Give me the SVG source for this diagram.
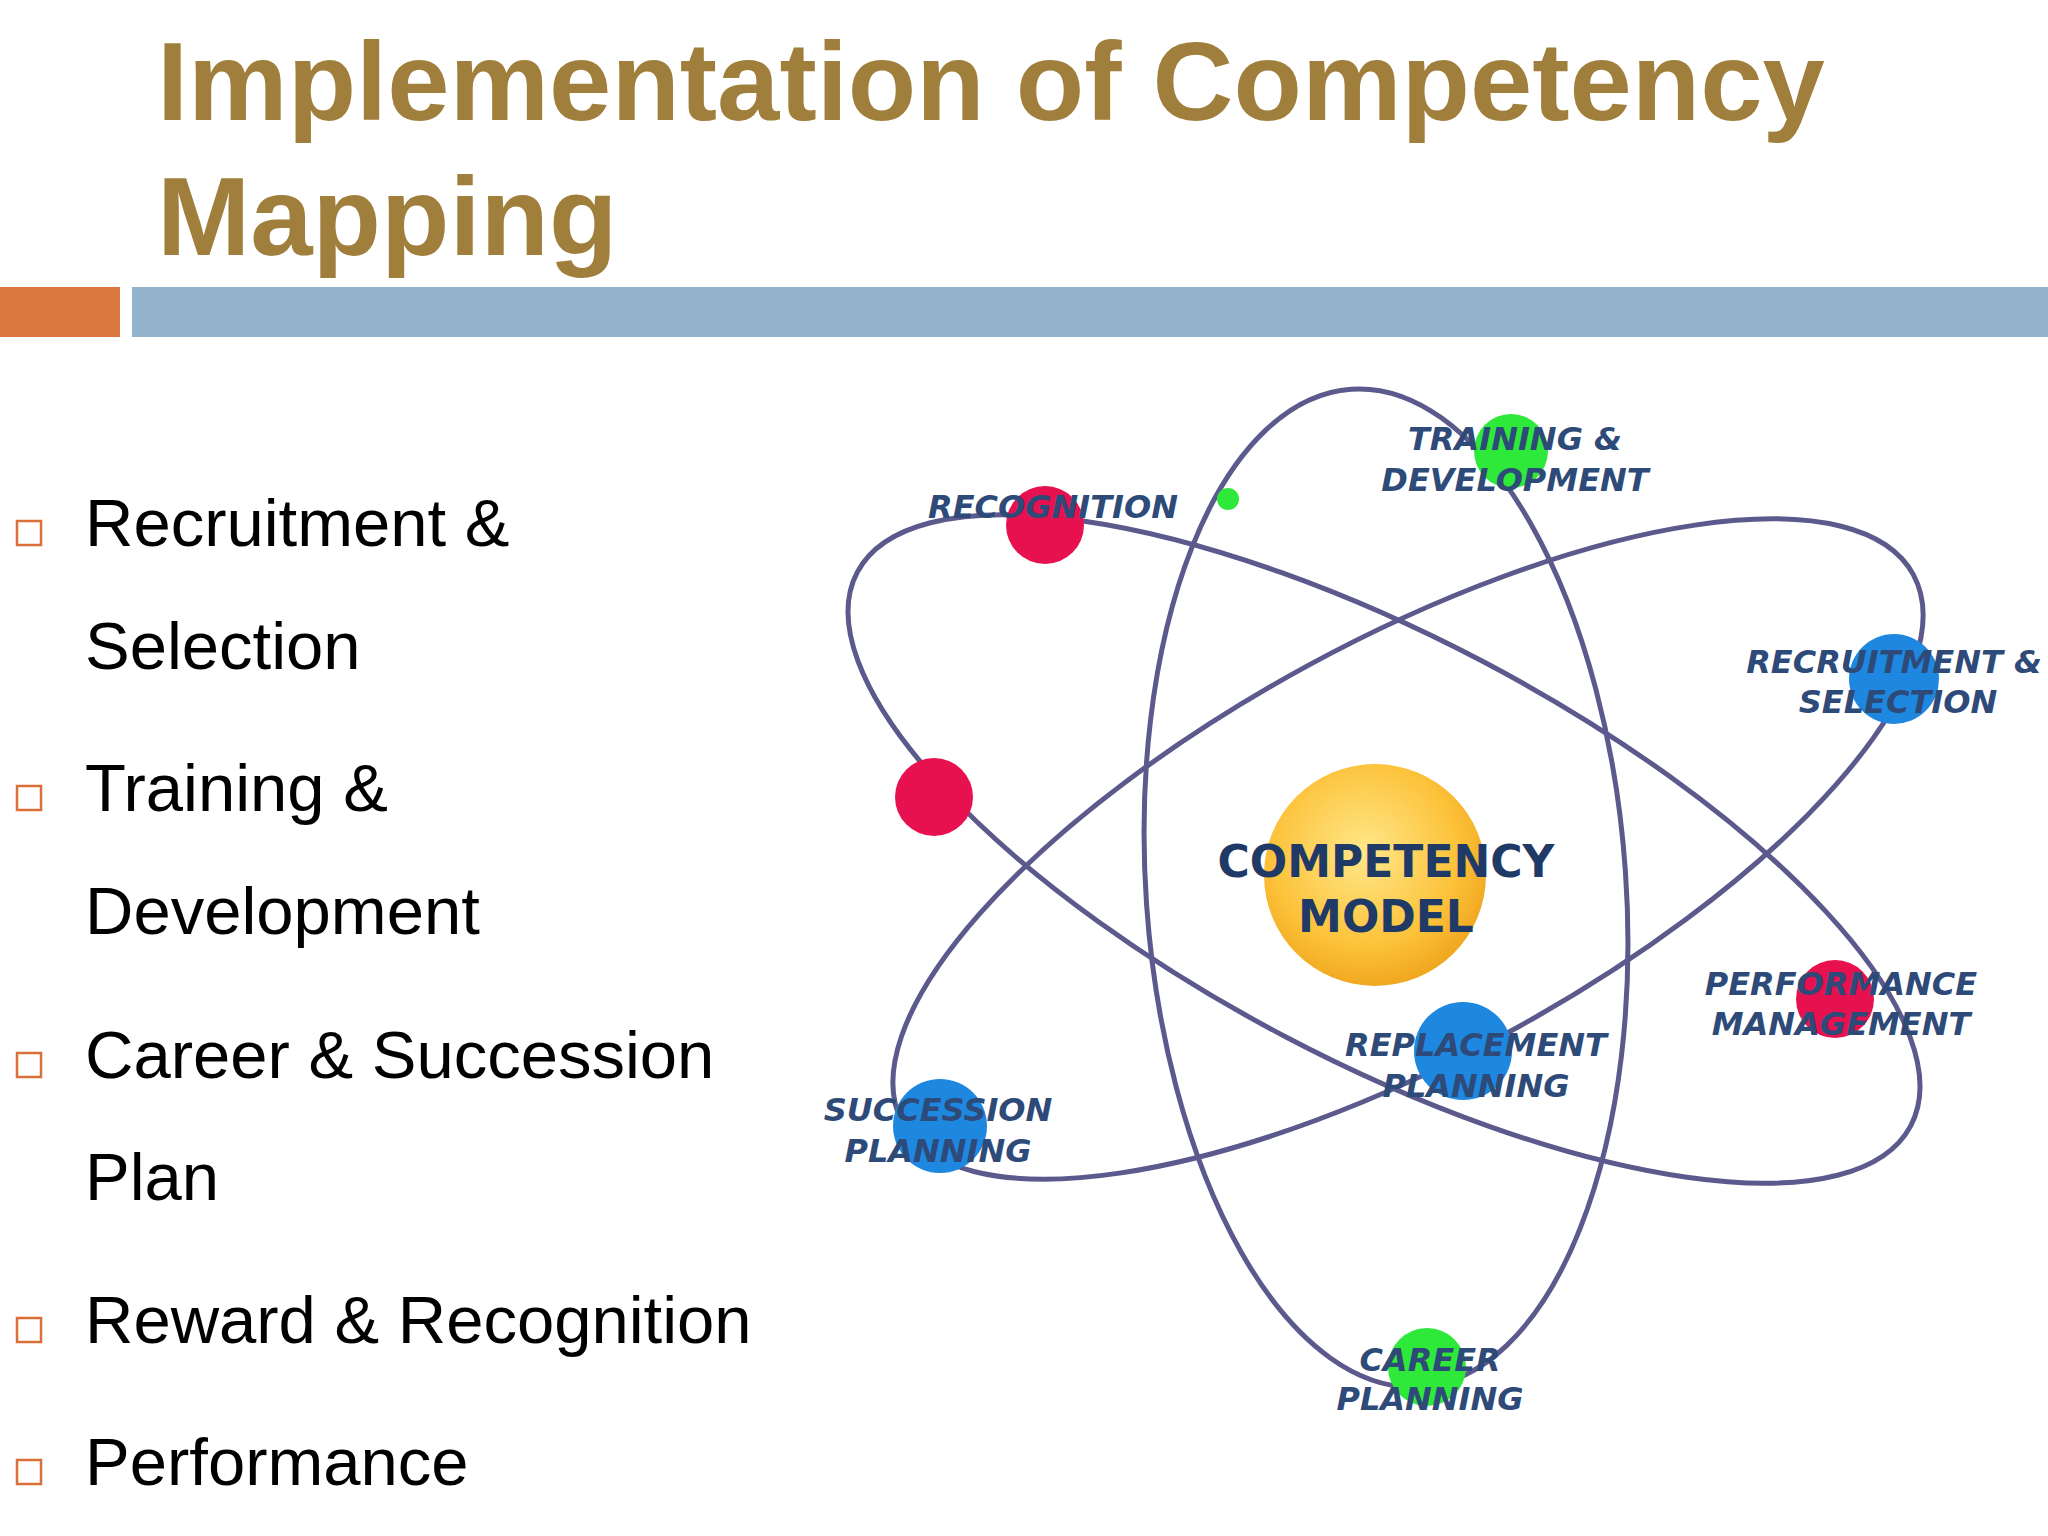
<svg xmlns="http://www.w3.org/2000/svg" width="2048" height="1536" viewBox="0 0 2048 1536">
<style>
.title{font-family:"Liberation Sans",Arial,sans-serif;font-weight:bold;font-size:112px;fill:#a07f3c}
.bul{font-family:"Liberation Sans",Arial,sans-serif;font-size:67px;fill:#000}
.sq{fill:none;stroke:#d9703a;stroke-width:2.5}
.orb{fill:none;stroke:#5c5a8c;stroke-width:5}
.lab{font-family:"DejaVu Sans",sans-serif;font-style:italic;font-weight:bold;font-size:32px;fill:#2e4a78;text-anchor:middle}
.core{font-family:"DejaVu Sans",sans-serif;font-weight:bold;font-size:44px;fill:#1f3a66;text-anchor:middle}
</style>
<defs>
<radialGradient id="gold" cx="0.45" cy="0.4" r="0.6">
<stop offset="0" stop-color="#ffe88a"/><stop offset="0.7" stop-color="#fcc23a"/><stop offset="1" stop-color="#f0a820"/>
</radialGradient>
</defs>
<rect width="2048" height="1536" fill="#fff"/>
<text class="title" x="157" y="120">Implementation of Competency</text>
<text class="title" x="157" y="255">Mapping</text>
<rect x="0" y="287" width="120" height="50" fill="#d9773f"/>
<rect x="132" y="287" width="1916" height="50" fill="#93b3cd"/>
<g id="bullets">
<rect class="sq" x="17" y="521" width="24" height="24"/><text class="bul" x="85" y="546">Recruitment &amp;</text>
<text class="bul" x="85" y="669">Selection</text>
<rect class="sq" x="17" y="786" width="24" height="24"/><text class="bul" x="85" y="811">Training &amp;</text>
<text class="bul" x="85" y="934">Development</text>
<rect class="sq" x="17" y="1053" width="24" height="24"/><text class="bul" x="85" y="1078">Career &amp; Succession</text>
<text class="bul" x="85" y="1200">Plan</text>
<rect class="sq" x="17" y="1318" width="24" height="24"/><text class="bul" x="85" y="1343">Reward &amp; Recognition</text>
<rect class="sq" x="17" y="1460" width="24" height="24"/><text class="bul" x="85" y="1485">Performance</text>
</g>
<g id="orbits">
<ellipse class="orb" cx="1386" cy="888" rx="240" ry="500" transform="rotate(-4 1386 888)"/>
<ellipse class="orb" cx="1384" cy="849" rx="595" ry="212" transform="rotate(27.7 1384 849)"/>
<ellipse class="orb" cx="1408" cy="849" rx="575" ry="209" transform="rotate(-28.5 1408 849)"/>
</g>
<g id="core"><circle cx="1375" cy="875" r="111" fill="url(#gold)"/>
<text class="core" x="1386" y="877">COMPETENCY</text><text class="core" x="1386" y="932">MODEL</text></g>
<g id="recognition"><circle cx="1045" cy="525" r="39" fill="#e8114f"/><text class="lab" x="1053" y="518">RECOGNITION</text></g>
<g id="red2"><circle cx="934" cy="797" r="39" fill="#e8114f"/></g>
<g id="training"><circle cx="1511" cy="451" r="37" fill="#2ee83a"/><text class="lab" x="1515" y="450">TRAINING &amp;</text><text class="lab" x="1515" y="491">DEVELOPMENT</text></g>
<g id="dot"><circle cx="1228" cy="499" r="11" fill="#2ee83a"/></g>
<g id="recruitment"><circle cx="1894" cy="679" r="45" fill="#1e88e0"/><text class="lab" x="1894" y="673">RECRUITMENT &amp;</text><text class="lab" x="1898" y="713">SELECTION</text></g>
<g id="performance"><circle cx="1835" cy="999" r="39" fill="#e8114f"/><text class="lab" x="1841" y="995">PERFORMANCE</text><text class="lab" x="1841" y="1035">MANAGEMENT</text></g>
<g id="replacement"><circle cx="1463" cy="1051" r="49" fill="#1e88e0"/><text class="lab" x="1476" y="1056">REPLACEMENT</text><text class="lab" x="1476" y="1097">PLANNING</text></g>
<g id="succession"><circle cx="940" cy="1126" r="47" fill="#1e88e0"/><text class="lab" x="938" y="1121">SUCCESSION</text><text class="lab" x="938" y="1162">PLANNING</text></g>
<g id="career"><circle cx="1427" cy="1367" r="39" fill="#2ee83a"/><text class="lab" x="1430" y="1371">CAREER</text><text class="lab" x="1430" y="1410">PLANNING</text></g>
</svg>
